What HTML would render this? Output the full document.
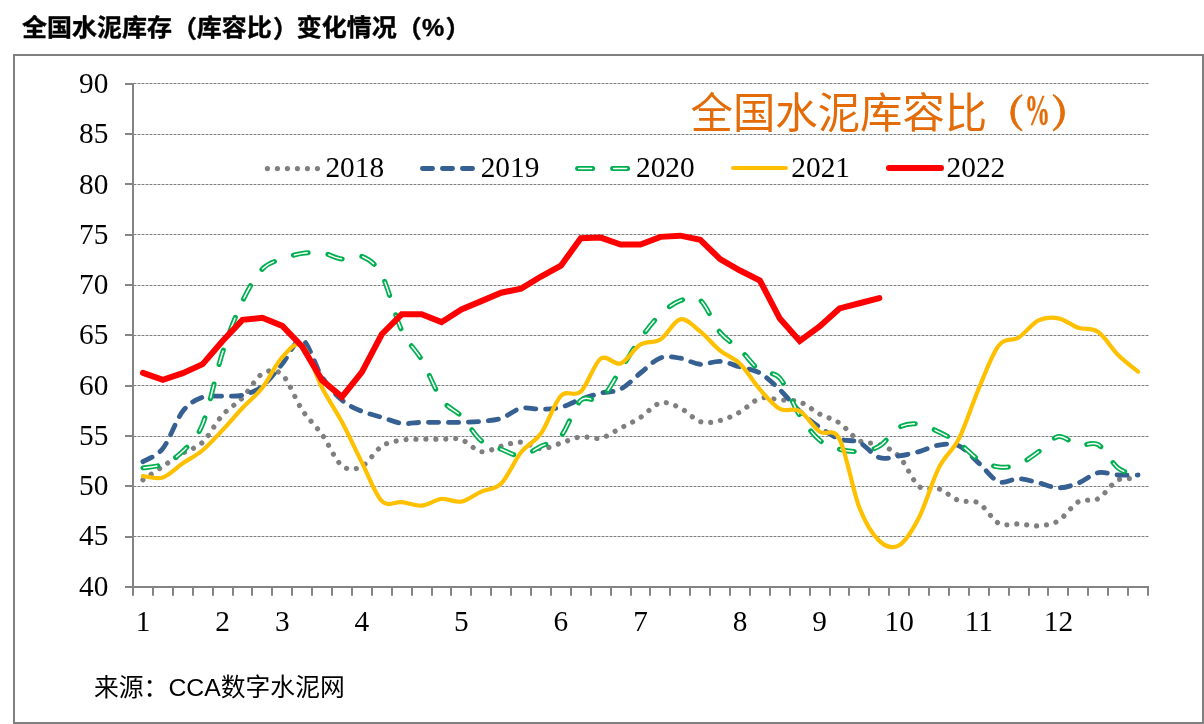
<!DOCTYPE html>
<html lang="zh-CN">
<head>
<meta charset="utf-8">
<title>全国水泥库存（库容比）变化情况（%）</title>
<style>
html,body{margin:0;padding:0;background:#fff;}
body{width:1204px;height:724px;overflow:hidden;}
svg{display:block;}
</style>
</head>
<body>
<svg width="1204" height="724" viewBox="0 0 1204 724">
<rect x="0" y="0" width="1204" height="724" fill="#fff"/>
<rect x="14" y="55" width="1189" height="668" fill="#fff" stroke="#808080" stroke-width="2"/>
<g fill="none" stroke-width="1" shape-rendering="crispEdges">
<line x1="133.0" y1="536.5" x2="1149.0" y2="536.5" stroke="#c8c8c8"/>
<line x1="134.0" y1="536.5" x2="1149.0" y2="536.5" stroke="#7e7e7e" stroke-dasharray="2 2"/>
<line x1="133.0" y1="486.5" x2="1149.0" y2="486.5" stroke="#c8c8c8"/>
<line x1="134.0" y1="486.5" x2="1149.0" y2="486.5" stroke="#7e7e7e" stroke-dasharray="2 2"/>
<line x1="133.0" y1="436.5" x2="1149.0" y2="436.5" stroke="#c8c8c8"/>
<line x1="134.0" y1="436.5" x2="1149.0" y2="436.5" stroke="#7e7e7e" stroke-dasharray="2 2"/>
<line x1="133.0" y1="385.5" x2="1149.0" y2="385.5" stroke="#c8c8c8"/>
<line x1="134.0" y1="385.5" x2="1149.0" y2="385.5" stroke="#7e7e7e" stroke-dasharray="2 2"/>
<line x1="133.0" y1="335.5" x2="1149.0" y2="335.5" stroke="#c8c8c8"/>
<line x1="134.0" y1="335.5" x2="1149.0" y2="335.5" stroke="#7e7e7e" stroke-dasharray="2 2"/>
<line x1="133.0" y1="285.5" x2="1149.0" y2="285.5" stroke="#c8c8c8"/>
<line x1="134.0" y1="285.5" x2="1149.0" y2="285.5" stroke="#7e7e7e" stroke-dasharray="2 2"/>
<line x1="133.0" y1="234.5" x2="1149.0" y2="234.5" stroke="#c8c8c8"/>
<line x1="134.0" y1="234.5" x2="1149.0" y2="234.5" stroke="#7e7e7e" stroke-dasharray="2 2"/>
<line x1="133.0" y1="184.5" x2="1149.0" y2="184.5" stroke="#c8c8c8"/>
<line x1="134.0" y1="184.5" x2="1149.0" y2="184.5" stroke="#7e7e7e" stroke-dasharray="2 2"/>
<line x1="133.0" y1="134.5" x2="1149.0" y2="134.5" stroke="#c8c8c8"/>
<line x1="134.0" y1="134.5" x2="1149.0" y2="134.5" stroke="#7e7e7e" stroke-dasharray="2 2"/>
<line x1="133.0" y1="83.5" x2="1149.0" y2="83.5" stroke="#c8c8c8"/>
<line x1="134.0" y1="83.5" x2="1149.0" y2="83.5" stroke="#7e7e7e" stroke-dasharray="2 2"/>
</g>
<g stroke="#848484" stroke-width="2" fill="none">
<line x1="133.0" y1="83.0" x2="133.0" y2="588.0"/>
<line x1="125.0" y1="587.0" x2="1149.0" y2="587.0"/>
<line x1="125.0" y1="537.0" x2="133.0" y2="537.0"/>
<line x1="125.0" y1="486.0" x2="133.0" y2="486.0"/>
<line x1="125.0" y1="436.0" x2="133.0" y2="436.0"/>
<line x1="125.0" y1="386.0" x2="133.0" y2="386.0"/>
<line x1="125.0" y1="335.0" x2="133.0" y2="335.0"/>
<line x1="125.0" y1="285.0" x2="133.0" y2="285.0"/>
<line x1="125.0" y1="235.0" x2="133.0" y2="235.0"/>
<line x1="125.0" y1="184.0" x2="133.0" y2="184.0"/>
<line x1="125.0" y1="134.0" x2="133.0" y2="134.0"/>
<line x1="125.0" y1="84.0" x2="133.0" y2="84.0"/>
<line x1="133.0" y1="587.0" x2="133.0" y2="595.7"/>
<line x1="153.0" y1="587.0" x2="153.0" y2="595.7"/>
<line x1="173.0" y1="587.0" x2="173.0" y2="595.7"/>
<line x1="193.0" y1="587.0" x2="193.0" y2="595.7"/>
<line x1="213.0" y1="587.0" x2="213.0" y2="595.7"/>
<line x1="233.0" y1="587.0" x2="233.0" y2="595.7"/>
<line x1="252.0" y1="587.0" x2="252.0" y2="595.7"/>
<line x1="272.0" y1="587.0" x2="272.0" y2="595.7"/>
<line x1="292.0" y1="587.0" x2="292.0" y2="595.7"/>
<line x1="312.0" y1="587.0" x2="312.0" y2="595.7"/>
<line x1="332.0" y1="587.0" x2="332.0" y2="595.7"/>
<line x1="352.0" y1="587.0" x2="352.0" y2="595.7"/>
<line x1="372.0" y1="587.0" x2="372.0" y2="595.7"/>
<line x1="392.0" y1="587.0" x2="392.0" y2="595.7"/>
<line x1="412.0" y1="587.0" x2="412.0" y2="595.7"/>
<line x1="432.0" y1="587.0" x2="432.0" y2="595.7"/>
<line x1="451.0" y1="587.0" x2="451.0" y2="595.7"/>
<line x1="471.0" y1="587.0" x2="471.0" y2="595.7"/>
<line x1="491.0" y1="587.0" x2="491.0" y2="595.7"/>
<line x1="511.0" y1="587.0" x2="511.0" y2="595.7"/>
<line x1="531.0" y1="587.0" x2="531.0" y2="595.7"/>
<line x1="551.0" y1="587.0" x2="551.0" y2="595.7"/>
<line x1="571.0" y1="587.0" x2="571.0" y2="595.7"/>
<line x1="591.0" y1="587.0" x2="591.0" y2="595.7"/>
<line x1="611.0" y1="587.0" x2="611.0" y2="595.7"/>
<line x1="631.0" y1="587.0" x2="631.0" y2="595.7"/>
<line x1="650.0" y1="587.0" x2="650.0" y2="595.7"/>
<line x1="670.0" y1="587.0" x2="670.0" y2="595.7"/>
<line x1="690.0" y1="587.0" x2="690.0" y2="595.7"/>
<line x1="710.0" y1="587.0" x2="710.0" y2="595.7"/>
<line x1="730.0" y1="587.0" x2="730.0" y2="595.7"/>
<line x1="750.0" y1="587.0" x2="750.0" y2="595.7"/>
<line x1="770.0" y1="587.0" x2="770.0" y2="595.7"/>
<line x1="790.0" y1="587.0" x2="790.0" y2="595.7"/>
<line x1="810.0" y1="587.0" x2="810.0" y2="595.7"/>
<line x1="830.0" y1="587.0" x2="830.0" y2="595.7"/>
<line x1="849.0" y1="587.0" x2="849.0" y2="595.7"/>
<line x1="869.0" y1="587.0" x2="869.0" y2="595.7"/>
<line x1="889.0" y1="587.0" x2="889.0" y2="595.7"/>
<line x1="909.0" y1="587.0" x2="909.0" y2="595.7"/>
<line x1="929.0" y1="587.0" x2="929.0" y2="595.7"/>
<line x1="949.0" y1="587.0" x2="949.0" y2="595.7"/>
<line x1="969.0" y1="587.0" x2="969.0" y2="595.7"/>
<line x1="989.0" y1="587.0" x2="989.0" y2="595.7"/>
<line x1="1009.0" y1="587.0" x2="1009.0" y2="595.7"/>
<line x1="1029.0" y1="587.0" x2="1029.0" y2="595.7"/>
<line x1="1048.0" y1="587.0" x2="1048.0" y2="595.7"/>
<line x1="1068.0" y1="587.0" x2="1068.0" y2="595.7"/>
<line x1="1088.0" y1="587.0" x2="1088.0" y2="595.7"/>
<line x1="1108.0" y1="587.0" x2="1108.0" y2="595.7"/>
<line x1="1128.0" y1="587.0" x2="1128.0" y2="595.7"/>
<line x1="1148.0" y1="587.0" x2="1148.0" y2="595.7"/>
</g>
<g font-family="'Liberation Serif','Noto Serif CJK SC',serif" font-size="29.33" fill="#000" text-anchor="end">
<text x="108.3" y="595.70">40</text>
<text x="108.3" y="545.44">45</text>
<text x="108.3" y="495.18">50</text>
<text x="108.3" y="444.92">55</text>
<text x="108.3" y="394.66">60</text>
<text x="108.3" y="344.40">65</text>
<text x="108.3" y="294.14">70</text>
<text x="108.3" y="243.88">75</text>
<text x="108.3" y="193.62">80</text>
<text x="108.3" y="143.36">85</text>
<text x="108.3" y="93.10">90</text>
</g>
<g font-family="'Liberation Serif','Noto Serif CJK SC',serif" font-size="29.33" fill="#000" text-anchor="middle">
<text x="143.0" y="631">1</text>
<text x="222.6" y="631">2</text>
<text x="282.3" y="631">3</text>
<text x="361.9" y="631">4</text>
<text x="461.4" y="631">5</text>
<text x="560.9" y="631">6</text>
<text x="640.5" y="631">7</text>
<text x="740.0" y="631">8</text>
<text x="819.6" y="631">9</text>
<text x="899.2" y="631">10</text>
<text x="978.8" y="631">11</text>
<text x="1058.4" y="631">12</text>
</g>
<g fill="none" stroke-linejoin="round">
<path d="M142.95,479.85 C146.27,477.60 156.22,470.79 162.85,466.36 C169.49,461.93 176.12,457.30 182.75,453.27 C189.39,449.24 196.02,448.57 202.66,442.19 C209.29,435.81 215.92,422.39 222.56,415.00 C229.19,407.62 235.83,404.77 242.46,397.88 C249.09,391.00 255.73,377.58 262.36,373.72 C269.00,369.86 275.63,368.68 282.26,374.72 C288.90,380.76 295.53,399.98 302.17,409.97 C308.80,419.95 315.43,425.34 322.07,434.64 C328.70,443.94 335.34,460.47 341.97,465.76 C348.60,471.04 355.24,469.62 361.87,466.36 C368.51,463.10 375.14,450.58 381.77,446.22 C388.41,441.86 395.04,441.35 401.68,440.18 C408.31,439.00 414.94,439.34 421.58,439.17 C428.21,439.00 434.85,439.09 441.48,439.17 C448.11,439.25 454.75,437.59 461.38,439.67 C468.02,441.76 474.65,450.57 481.28,451.66 C487.92,452.75 494.55,447.80 501.19,446.22 C507.82,444.64 514.45,441.77 521.09,442.19 C527.72,442.61 534.36,448.57 540.99,448.74 C547.62,448.91 554.26,445.18 560.89,443.20 C567.53,441.22 574.16,437.69 580.79,436.85 C587.43,436.02 594.06,439.62 600.70,438.16 C607.33,436.70 613.96,431.55 620.60,428.09 C627.23,424.64 633.87,421.62 640.50,417.42 C647.13,413.22 653.77,404.50 660.40,402.92 C667.04,401.34 673.67,404.83 680.30,407.95 C686.94,411.08 693.57,419.55 700.21,421.65 C706.84,423.75 713.47,422.15 720.11,420.54 C726.74,418.93 733.38,415.67 740.01,411.98 C746.64,408.29 753.28,400.40 759.91,398.39 C766.55,396.37 773.18,399.31 779.81,399.90 C786.45,400.49 793.08,399.56 799.72,401.91 C806.35,404.26 812.98,410.47 819.62,414.00 C826.25,417.52 832.89,418.61 839.52,423.06 C846.15,427.51 852.79,437.07 859.42,440.68 C866.06,444.29 872.69,442.06 879.32,444.71 C885.96,447.36 892.59,449.63 899.23,456.59 C905.86,463.56 912.49,481.11 919.13,486.50 C925.76,491.89 932.40,486.57 939.03,488.92 C945.66,491.27 952.30,498.23 958.93,500.60 C965.57,502.96 972.20,499.34 978.83,503.12 C985.47,506.89 992.10,519.78 998.74,523.26 C1005.37,526.73 1012.00,523.54 1018.64,523.96 C1025.27,524.38 1031.91,526.31 1038.54,525.77 C1045.17,525.24 1051.81,524.73 1058.44,520.74 C1065.08,516.74 1071.71,505.50 1078.34,501.81 C1084.98,498.11 1091.61,502.23 1098.25,498.58 C1104.88,494.94 1111.51,483.14 1118.15,479.95 C1124.78,476.77 1134.73,479.53 1138.05,479.45" stroke="#7f7f7f" stroke-width="5.2" stroke-linecap="round" stroke-dasharray="0.01 9.936"/>
<path d="M142.95,461.63 C146.27,459.45 156.22,456.93 162.85,448.54 C169.49,440.14 176.12,419.84 182.75,411.28 C189.39,402.72 196.02,399.70 202.66,397.18 C209.29,394.66 215.92,396.51 222.56,396.17 C229.19,395.84 235.83,396.84 242.46,395.17 C249.09,393.49 255.73,391.30 262.36,386.10 C269.00,380.90 275.63,371.67 282.26,363.95 C288.90,356.23 295.53,337.60 302.17,339.78 C308.80,341.96 315.43,366.97 322.07,377.04 C328.70,387.11 335.34,394.49 341.97,400.20 C348.60,405.91 355.24,408.42 361.87,411.28 C368.51,414.13 375.14,415.31 381.77,417.32 C388.41,419.33 395.04,422.52 401.68,423.36 C408.31,424.20 414.94,422.52 421.58,422.35 C428.21,422.19 434.85,422.35 441.48,422.35 C448.11,422.35 454.75,422.52 461.38,422.35 C468.02,422.19 474.65,422.02 481.28,421.35 C487.92,420.68 494.55,420.51 501.19,418.33 C507.82,416.14 514.45,409.77 521.09,408.26 C527.72,406.75 534.36,409.43 540.99,409.26 C547.62,409.10 554.26,408.93 560.89,407.25 C567.53,405.57 574.16,401.54 580.79,399.19 C587.43,396.84 594.06,394.83 600.70,393.15 C607.33,391.47 613.96,392.48 620.60,389.12 C627.23,385.77 633.87,378.21 640.50,373.01 C647.13,367.81 653.77,360.37 660.40,357.91 C667.04,355.44 673.67,357.15 680.30,358.21 C686.94,359.27 693.57,363.73 700.21,364.25 C706.84,364.77 713.47,360.88 720.11,361.33 C726.74,361.78 733.38,365.02 740.01,366.97 C746.64,368.92 753.28,369.22 759.91,373.01 C766.55,376.80 773.18,383.35 779.81,389.73 C786.45,396.10 793.08,405.00 799.72,411.28 C806.35,417.55 812.98,422.77 819.62,427.39 C826.25,432.00 832.89,436.45 839.52,438.97 C846.15,441.49 852.79,439.39 859.42,442.49 C866.06,445.60 872.69,455.37 879.32,457.60 C885.96,459.83 892.59,456.89 899.23,455.89 C905.86,454.88 912.49,453.37 919.13,451.56 C925.76,449.74 932.40,445.97 939.03,445.01 C945.66,444.05 952.30,442.80 958.93,445.82 C965.57,448.84 972.20,457.15 978.83,463.14 C985.47,469.13 992.10,479.17 998.74,481.77 C1005.37,484.37 1012.00,478.58 1018.64,478.75 C1025.27,478.91 1031.91,481.26 1038.54,482.77 C1045.17,484.28 1051.81,487.76 1058.44,487.81 C1065.08,487.86 1071.71,485.59 1078.34,483.08 C1084.98,480.56 1091.61,474.05 1098.25,472.70 C1104.88,471.36 1111.51,474.63 1118.15,475.02 C1124.78,475.41 1134.73,475.02 1138.05,475.02" stroke="#366092" stroke-width="4.8" stroke-linecap="round" stroke-dasharray="10.2 9.8"/>
<path d="M142.95,467.87 C146.27,467.28 156.22,467.12 162.85,464.35 C169.49,461.58 176.12,457.97 182.75,451.25 C189.39,444.54 196.02,440.51 202.66,424.07 C209.29,407.62 215.92,373.04 222.56,352.57 C229.19,332.09 235.83,315.14 242.46,301.21 C249.09,287.28 255.73,276.04 262.36,268.99 C269.00,261.94 275.63,261.52 282.26,258.92 C288.90,256.32 295.53,254.39 302.17,253.38 C308.80,252.37 315.43,251.95 322.07,252.88 C328.70,253.80 335.34,258.33 341.97,258.92 C348.60,259.51 355.24,253.72 361.87,256.40 C368.51,259.09 375.14,262.69 381.77,275.03 C388.41,287.37 395.04,316.32 401.68,330.42 C408.31,344.51 414.94,348.14 421.58,359.62 C428.21,371.10 434.85,389.84 441.48,399.29 C448.11,408.74 454.75,409.40 461.38,416.31 C468.02,423.23 474.65,435.29 481.28,440.78 C487.92,446.27 494.55,446.74 501.19,449.24 C507.82,451.74 514.45,456.29 521.09,455.79 C527.72,455.28 534.36,449.49 540.99,446.22 C547.62,442.95 554.26,443.80 560.89,436.15 C567.53,428.50 574.16,406.51 580.79,400.30 C587.43,394.09 594.06,403.99 600.70,398.89 C607.33,393.79 613.96,379.76 620.60,369.69 C627.23,359.62 633.87,347.70 640.50,338.47 C647.13,329.24 653.77,320.61 660.40,314.30 C667.04,307.99 673.67,302.96 680.30,300.61 C686.94,298.26 693.57,294.90 700.21,300.20 C706.84,305.51 713.47,324.21 720.11,332.43 C726.74,340.65 733.38,343.17 740.01,349.55 C746.64,355.93 753.28,365.95 759.91,370.69 C766.55,375.44 773.18,370.59 779.81,378.05 C786.45,385.50 793.08,405.05 799.72,415.41 C806.35,425.76 812.98,434.54 819.62,440.18 C826.25,445.82 832.89,447.39 839.52,449.24 C846.15,451.09 852.79,451.76 859.42,451.25 C866.06,450.75 872.69,450.20 879.32,446.22 C885.96,442.24 892.59,431.08 899.23,427.39 C905.86,423.70 912.49,423.28 919.13,424.07 C925.76,424.85 932.40,428.93 939.03,432.12 C945.66,435.31 952.30,438.60 958.93,443.20 C965.57,447.80 972.20,455.75 978.83,459.71 C985.47,463.67 992.10,466.19 998.74,466.96 C1005.37,467.74 1012.00,466.88 1018.64,464.35 C1025.27,461.81 1031.91,456.39 1038.54,451.76 C1045.17,447.13 1051.81,437.64 1058.44,436.55 C1065.08,435.46 1071.71,443.85 1078.34,445.21 C1084.98,446.57 1091.61,440.90 1098.25,444.71 C1104.88,448.52 1111.51,462.95 1118.15,468.07 C1124.78,473.19 1134.73,474.20 1138.05,475.42" stroke="#00b050" stroke-width="5.0" stroke-linecap="round" stroke-dasharray="15 20"/>
<path d="M142.95,467.87 C146.27,467.28 156.22,467.12 162.85,464.35 C169.49,461.58 176.12,457.97 182.75,451.25 C189.39,444.54 196.02,440.51 202.66,424.07 C209.29,407.62 215.92,373.04 222.56,352.57 C229.19,332.09 235.83,315.14 242.46,301.21 C249.09,287.28 255.73,276.04 262.36,268.99 C269.00,261.94 275.63,261.52 282.26,258.92 C288.90,256.32 295.53,254.39 302.17,253.38 C308.80,252.37 315.43,251.95 322.07,252.88 C328.70,253.80 335.34,258.33 341.97,258.92 C348.60,259.51 355.24,253.72 361.87,256.40 C368.51,259.09 375.14,262.69 381.77,275.03 C388.41,287.37 395.04,316.32 401.68,330.42 C408.31,344.51 414.94,348.14 421.58,359.62 C428.21,371.10 434.85,389.84 441.48,399.29 C448.11,408.74 454.75,409.40 461.38,416.31 C468.02,423.23 474.65,435.29 481.28,440.78 C487.92,446.27 494.55,446.74 501.19,449.24 C507.82,451.74 514.45,456.29 521.09,455.79 C527.72,455.28 534.36,449.49 540.99,446.22 C547.62,442.95 554.26,443.80 560.89,436.15 C567.53,428.50 574.16,406.51 580.79,400.30 C587.43,394.09 594.06,403.99 600.70,398.89 C607.33,393.79 613.96,379.76 620.60,369.69 C627.23,359.62 633.87,347.70 640.50,338.47 C647.13,329.24 653.77,320.61 660.40,314.30 C667.04,307.99 673.67,302.96 680.30,300.61 C686.94,298.26 693.57,294.90 700.21,300.20 C706.84,305.51 713.47,324.21 720.11,332.43 C726.74,340.65 733.38,343.17 740.01,349.55 C746.64,355.93 753.28,365.95 759.91,370.69 C766.55,375.44 773.18,370.59 779.81,378.05 C786.45,385.50 793.08,405.05 799.72,415.41 C806.35,425.76 812.98,434.54 819.62,440.18 C826.25,445.82 832.89,447.39 839.52,449.24 C846.15,451.09 852.79,451.76 859.42,451.25 C866.06,450.75 872.69,450.20 879.32,446.22 C885.96,442.24 892.59,431.08 899.23,427.39 C905.86,423.70 912.49,423.28 919.13,424.07 C925.76,424.85 932.40,428.93 939.03,432.12 C945.66,435.31 952.30,438.60 958.93,443.20 C965.57,447.80 972.20,455.75 978.83,459.71 C985.47,463.67 992.10,466.19 998.74,466.96 C1005.37,467.74 1012.00,466.88 1018.64,464.35 C1025.27,461.81 1031.91,456.39 1038.54,451.76 C1045.17,447.13 1051.81,437.64 1058.44,436.55 C1065.08,435.46 1071.71,443.85 1078.34,445.21 C1084.98,446.57 1091.61,440.90 1098.25,444.71 C1104.88,448.52 1111.51,462.95 1118.15,468.07 C1124.78,473.19 1134.73,474.20 1138.05,475.42" stroke="#fff" stroke-width="1.5" stroke-linecap="round" stroke-dasharray="13 22" stroke-dashoffset="-1"/>
<path d="M142.95,476.13 C146.27,476.35 156.22,479.57 162.85,477.44 C169.49,475.31 176.12,467.87 182.75,463.34 C189.39,458.81 196.02,455.79 202.66,450.25 C209.29,444.71 215.92,437.16 222.56,430.11 C229.19,423.06 235.83,415.00 242.46,407.95 C249.09,400.91 255.73,396.29 262.36,387.81 C269.00,379.34 275.63,364.15 282.26,357.10 C288.90,350.05 295.53,340.40 302.17,345.52 C308.80,350.64 315.43,375.06 322.07,387.81 C328.70,400.57 335.34,409.63 341.97,422.05 C348.60,434.47 355.24,449.16 361.87,462.33 C368.51,475.51 375.14,494.47 381.77,501.10 C388.41,507.73 395.04,501.35 401.68,502.11 C408.31,502.86 414.94,506.15 421.58,505.63 C428.21,505.11 434.85,499.66 441.48,498.99 C448.11,498.32 454.75,502.85 461.38,501.61 C468.02,500.36 474.65,494.56 481.28,491.54 C487.92,488.51 494.55,490.02 501.19,483.48 C507.82,476.93 514.45,460.59 521.09,452.26 C527.72,443.94 534.36,442.93 540.99,433.53 C547.62,424.13 554.26,402.85 560.89,395.87 C567.53,388.89 574.16,397.85 580.79,391.64 C587.43,385.43 594.06,363.31 600.70,358.61 C607.33,353.91 613.96,365.79 620.60,363.44 C627.23,361.09 633.87,348.51 640.50,344.51 C647.13,340.52 653.77,343.67 660.40,339.48 C667.04,335.28 673.67,320.68 680.30,319.34 C686.94,318.00 693.57,326.22 700.21,331.42 C706.84,336.62 713.47,345.18 720.11,350.56 C726.74,355.93 733.38,357.17 740.01,363.65 C746.64,370.12 753.28,381.87 759.91,389.43 C766.55,396.98 773.18,405.37 779.81,408.96 C786.45,412.55 793.08,407.20 799.72,410.98 C806.35,414.75 812.98,426.92 819.62,431.62 C826.25,436.32 832.89,426.50 839.52,439.17 C846.15,451.84 852.79,490.70 859.42,507.65 C866.06,524.60 872.69,534.62 879.32,540.88 C885.96,547.14 892.59,549.15 899.23,545.21 C905.86,541.26 912.49,530.19 919.13,517.21 C925.76,504.24 932.40,480.46 939.03,467.37 C945.66,454.28 952.30,451.84 958.93,438.67 C965.57,425.49 972.20,403.84 978.83,388.32 C985.47,372.79 992.10,354.00 998.74,345.52 C1005.37,337.04 1012.00,341.66 1018.64,337.46 C1025.27,333.27 1031.91,323.53 1038.54,320.35 C1045.17,317.16 1051.81,317.09 1058.44,318.33 C1065.08,319.57 1071.71,325.51 1078.34,327.80 C1084.98,330.08 1091.61,327.49 1098.25,332.03 C1104.88,336.56 1111.51,348.37 1118.15,354.99 C1124.78,361.60 1134.73,368.92 1138.05,371.70" stroke="#ffc000" stroke-width="4.2" stroke-linecap="round"/>
<path d="M142.95,372.81 L162.85,379.86 L182.75,373.21 L202.66,364.15 L222.56,340.99 L242.46,319.84 L262.36,317.83 L282.26,325.88 L302.17,346.53 L322.07,380.26 L341.97,396.88 L361.87,372.21 L381.77,334.24 L401.68,314.30 L421.58,314.30 L441.48,322.16 L461.38,309.37 L481.28,301.11 L501.19,292.75 L521.09,288.62 L540.99,276.54 L560.89,265.66 L580.79,238.27 L600.70,237.57 L620.60,244.62 L640.50,244.62 L660.40,236.86 L680.30,235.66 L700.21,239.79 L720.11,259.12 L740.01,270.50 L759.91,280.57 L779.81,318.53 L799.72,340.99 L819.62,326.39 L839.52,308.46 L859.42,303.23 L879.32,298.09" stroke="#ff0000" stroke-width="6.0" stroke-linecap="round" stroke-linejoin="miter"/>
</g>
<g fill="none" stroke-linecap="round">
<path d="M267.4,168.6 H320" stroke="#7f7f7f" stroke-width="5.2" stroke-dasharray="0.01 10"/>
<path d="M422.4,168.5 H473" stroke="#366092" stroke-width="4.8" stroke-dasharray="10.2 9.8"/>
<path d="M577.6,168.5 H628" stroke="#00b050" stroke-width="5.0" stroke-dasharray="15 20"/>
<path d="M577.6,168.5 H628" stroke="#fff" stroke-width="1.5" stroke-dasharray="13 22" stroke-dashoffset="-1"/>
<path d="M733.1,168.0 H785.9" stroke="#ffc000" stroke-width="4.2"/>
<path d="M889,168.0 H941" stroke="#ff0000" stroke-width="6.0"/>
</g>
<g font-family="'Liberation Serif','Noto Serif CJK SC',serif" font-size="29.33" fill="#000">
<text x="325.4" y="177.4">2018</text>
<text x="480.7" y="177.4">2019</text>
<text x="636.0" y="177.4">2020</text>
<text x="791.3" y="177.4">2021</text>
<text x="946.6" y="177.4">2022</text>
</g>
<text x="690.5" y="127.5" font-size="42.4" fill="#e36c09" font-family="'Liberation Sans','Noto Sans CJK SC',sans-serif" font-weight="400">全国水泥库容比</text>
<g fill="#e36c09" stroke="#e36c09" stroke-width="0.7" stroke-linejoin="round" font-weight="700">
<text x="986" y="127" font-size="38.5" font-family="'Liberation Serif','Noto Serif CJK SC',serif">（</text>
<text transform="translate(1024.7,125) scale(0.57,1)" x="0" y="0" font-size="44.4" stroke-width="0.4" font-family="'Liberation Serif',serif">%</text>
<text x="1050.8" y="127" font-size="38.5" font-family="'Liberation Serif','Noto Serif CJK SC',serif">）</text>
</g>
<text x="94" y="696.3" font-size="24.8" fill="#000" font-family="'Liberation Sans','Noto Sans CJK SC',sans-serif">来源：CCA数字水泥网</text>
<text transform="translate(22,36.4) scale(1,0.965)" x="0" y="0" font-size="25" font-weight="700" fill="#000" stroke="#000" stroke-width="0.45" stroke-linejoin="round" font-family="'Liberation Sans','Noto Sans CJK SC',sans-serif">全国水泥库存<tspan dy="0.7">（</tspan><tspan dy="-0.7">库容比</tspan><tspan dy="0.7" dx="1.2">）</tspan><tspan dy="-0.7" dx="-1.2">变化情况</tspan><tspan dy="0.7">（</tspan><tspan dy="-0.7" dx="0.3">%</tspan><tspan dy="0.7" dx="1.2">）</tspan></text>
</svg>
</body>
</html>
